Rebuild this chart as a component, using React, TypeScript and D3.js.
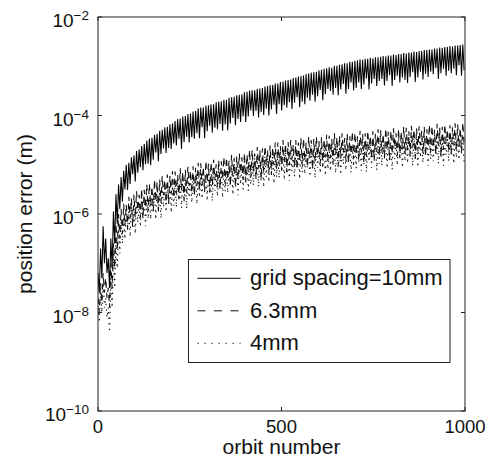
import React from "react";
import * as d3 from "d3";

// ---- data (values stored as log10 of position error in metres) ----
const xTicks = [0, 500, 1000];
const yTickExponents = [-10, -8, -6, -4, -2];
const cycleOrbits = 7; // one oscillation (peak + dip) every 7 orbits
const legendLabels = ["grid spacing=10mm", "6.3mm", "4mm"];

const solidPeaks = [
  -7.2, -6.7, -6.25, -6.5, -6.9, -6.5, -5.95, -5.6, -5.4, -5.25,
  -5.12, -5.0, -4.96, -4.85, -4.81, -4.72, -4.69, -4.62, -4.58, -4.51,
  -4.47, -4.45, -4.39, -4.37, -4.31, -4.29, -4.24, -4.23, -4.18, -4.16,
  -4.11, -4.07, -4.06, -4.02, -4.01, -3.97, -3.96, -3.92, -3.91, -3.86,
  -3.84, -3.84, -3.8, -3.79, -3.77, -3.77, -3.73, -3.72, -3.71, -3.68,
  -3.68, -3.64, -3.63, -3.62, -3.59, -3.58, -3.57, -3.53, -3.52, -3.5,
  -3.49, -3.49, -3.46, -3.45, -3.44, -3.41, -3.4, -3.38, -3.38, -3.35,
  -3.35, -3.32, -3.31, -3.29, -3.28, -3.27, -3.24, -3.23, -3.21, -3.2,
  -3.19, -3.16, -3.15, -3.13, -3.12, -3.11, -3.08, -3.07, -3.05, -3.04,
  -3.02, -3.03, -2.99, -2.99, -2.97, -2.96, -2.94, -2.94, -2.91, -2.91,
  -2.89, -2.88, -2.86, -2.87, -2.85, -2.85, -2.83, -2.84, -2.82, -2.82,
  -2.81, -2.79, -2.8, -2.78, -2.78, -2.76, -2.77, -2.75, -2.75, -2.73,
  -2.74, -2.72, -2.72, -2.7, -2.71, -2.69, -2.69, -2.67, -2.67, -2.66,
  -2.66, -2.64, -2.64, -2.62, -2.63, -2.61, -2.61, -2.59, -2.6, -2.58,
  -2.58, -2.57, -2.56,
];
const solidDips = [
  -7.6, -7.3, -7.0, -7.2, -7.5, -7.1, -6.6, -6.2, -5.9, -5.75,
  -5.5, -5.51, -5.39, -5.19, -5.34, -5.16, -5.05, -5.11, -4.99, -4.98,
  -5.01, -4.9, -4.75, -4.93, -4.78, -4.67, -4.76, -4.66, -4.68, -4.57,
  -4.61, -4.47, -4.68, -4.54, -4.43, -4.55, -4.44, -4.47, -4.36, -4.46,
  -4.24, -4.46, -4.32, -4.21, -4.35, -4.25, -4.28, -4.17, -4.31, -4.18,
  -4.3, -4.16, -4.05, -4.2, -4.07, -4.13, -4.02, -4.13, -4.02, -3.9,
  -4.01, -3.91, -4.04, -3.93, -3.99, -3.86, -4.0, -3.88, -3.78, -3.97,
  -3.77, -3.9, -3.79, -3.84, -3.73, -3.87, -3.74, -3.63, -3.83, -3.72,
  -3.77, -3.64, -3.7, -3.58, -3.72, -3.61, -3.48, -3.69, -3.57, -3.46,
  -3.5, -3.58, -3.44, -3.59, -3.47, -3.36, -3.56, -3.46, -3.33, -3.49,
  -3.44, -3.33, -3.46, -3.37, -3.25, -3.47, -3.35, -3.26, -3.4, -3.3,
  -3.26, -3.39, -3.3, -3.18, -3.4, -3.28, -3.19, -3.33, -3.23, -3.28,
  -3.34, -3.22, -3.12, -3.32, -3.23, -3.11, -3.27, -3.15, -3.22, -3.11,
  -3.16, -3.04, -3.26, -3.14, -3.05, -3.19, -3.09, -3.14, -3.05, -3.18,
  -2.98, -3.19, -3.08,
];

const dashedPeaks = [
  -7.7, -7.4, -7.2, -7.3, -7.5, -7.0, -6.6, -6.2, -6.0, -5.9,
  -5.79, -5.81, -5.65, -5.68, -5.61, -5.54, -5.61, -5.49, -5.51, -5.4,
  -5.39, -5.44, -5.3, -5.35, -5.3, -5.23, -5.31, -5.2, -5.23, -5.13,
  -5.14, -5.2, -5.07, -5.14, -5.1, -5.04, -5.12, -5.03, -5.06, -4.96,
  -4.97, -5.04, -4.92, -4.98, -4.95, -4.9, -4.99, -4.9, -4.93, -4.84,
  -4.85, -4.92, -4.8, -4.86, -4.83, -4.77, -4.85, -4.76, -4.79, -4.7,
  -4.7, -4.77, -4.64, -4.71, -4.67, -4.62, -4.7, -4.61, -4.64, -4.55,
  -4.55, -4.62, -4.5, -4.57, -4.54, -4.5, -4.59, -4.5, -4.55, -4.46,
  -4.47, -4.55, -4.43, -4.5, -4.48, -4.43, -4.52, -4.44, -4.48, -4.39,
  -4.41, -4.48, -4.36, -4.44, -4.41, -4.36, -4.46, -4.37, -4.42, -4.33,
  -4.35, -4.42, -4.31, -4.38, -4.36, -4.31, -4.41, -4.32, -4.37, -4.28,
  -4.3, -4.37, -4.26, -4.33, -4.31, -4.26, -4.36, -4.27, -4.32, -4.23,
  -4.25, -4.32, -4.21, -4.28, -4.26, -4.22, -4.31, -4.23, -4.28, -4.19,
  -4.21, -4.29, -4.17, -4.25, -4.23, -4.18, -4.28, -4.2, -4.24, -4.16,
  -4.18, -4.25, -4.14,
];
const dashedDips = [
  -8.0, -7.8, -7.6, -7.7, -7.9, -7.5, -7.1, -6.7, -6.5, -6.4,
  -6.24, -6.31, -6.09, -6.26, -6.08, -5.93, -6.07, -6.09, -5.88, -5.95,
  -5.84, -5.94, -5.74, -5.93, -5.77, -5.62, -5.77, -5.8, -5.6, -5.68,
  -5.59, -5.7, -5.51, -5.72, -5.57, -5.43, -5.58, -5.63, -5.43, -5.51,
  -5.42, -5.54, -5.36, -5.56, -5.42, -5.29, -5.45, -5.5, -5.3, -5.39,
  -5.3, -5.42, -5.24, -5.44, -5.3, -5.16, -5.31, -5.36, -5.16, -5.25,
  -5.15, -5.27, -5.08, -5.29, -5.14, -5.01, -5.16, -5.21, -5.01, -5.1,
  -5.0, -5.12, -4.94, -5.15, -5.01, -4.89, -5.05, -5.1, -4.92, -5.01,
  -4.92, -5.05, -4.87, -5.08, -4.95, -4.82, -4.98, -5.04, -4.85, -4.94,
  -4.86, -4.98, -4.8, -5.02, -4.88, -4.75, -4.92, -4.97, -4.79, -4.88,
  -4.8, -4.92, -4.75, -4.96, -4.83, -4.7, -4.87, -4.92, -4.74, -4.83,
  -4.75, -4.87, -4.7, -4.91, -4.78, -4.65, -4.82, -4.87, -4.69, -4.78,
  -4.7, -4.82, -4.65, -4.86, -4.73, -4.61, -4.77, -4.83, -4.65, -4.74,
  -4.66, -4.79, -4.61, -4.83, -4.7, -4.57, -4.74, -4.8, -4.61, -4.71,
  -4.63, -4.75, -4.58,
];

const dottedPeaks = [
  -7.9, -7.6, -7.4, -7.7, -7.9, -7.3, -6.9, -6.5, -6.3, -6.15,
  -6.05, -5.9, -5.91, -5.79, -5.85, -5.75, -5.77, -5.66, -5.67, -5.7,
  -5.65, -5.53, -5.56, -5.46, -5.54, -5.44, -5.47, -5.37, -5.39, -5.43,
  -5.4, -5.29, -5.33, -5.25, -5.34, -5.25, -5.28, -5.2, -5.22, -5.26,
  -5.23, -5.13, -5.18, -5.09, -5.19, -5.11, -5.15, -5.07, -5.09, -5.14,
  -5.11, -5.01, -5.06, -4.97, -5.07, -4.98, -5.01, -4.93, -4.95, -5.0,
  -4.96, -4.86, -4.9, -4.82, -4.91, -4.83, -4.86, -4.78, -4.8, -4.85,
  -4.81, -4.71, -4.76, -4.68, -4.78, -4.71, -4.75, -4.67, -4.71, -4.76,
  -4.73, -4.64, -4.69, -4.61, -4.72, -4.64, -4.68, -4.61, -4.64, -4.69,
  -4.67, -4.57, -4.62, -4.55, -4.65, -4.57, -4.62, -4.54, -4.58, -4.63,
  -4.61, -4.51, -4.57, -4.49, -4.6, -4.52, -4.57, -4.49, -4.53, -4.58,
  -4.56, -4.46, -4.52, -4.44, -4.55, -4.47, -4.52, -4.44, -4.48, -4.53,
  -4.51, -4.41, -4.47, -4.39, -4.5, -4.43, -4.47, -4.4, -4.44, -4.49,
  -4.47, -4.38, -4.43, -4.36, -4.47, -4.39, -4.44, -4.37, -4.4, -4.46,
  -4.44, -4.34, -4.4,
];
const dottedDips = [
  -8.2, -8.0, -7.9, -8.1, -8.4, -7.9, -7.5, -7.1, -6.8, -6.6,
  -6.51, -6.33, -6.46, -6.29, -6.4, -6.17, -6.26, -6.06, -6.25, -6.1,
  -6.11, -5.96, -6.11, -5.96, -6.09, -5.86, -5.96, -5.77, -5.97, -5.83,
  -5.86, -5.72, -5.88, -5.75, -5.89, -5.67, -5.77, -5.6, -5.8, -5.66,
  -5.69, -5.56, -5.73, -5.59, -5.74, -5.53, -5.64, -5.47, -5.67, -5.54,
  -5.57, -5.44, -5.61, -5.47, -5.62, -5.4, -5.5, -5.33, -5.53, -5.4,
  -5.42, -5.29, -5.45, -5.32, -5.46, -5.25, -5.35, -5.18, -5.38, -5.25,
  -5.27, -5.14, -5.31, -5.18, -5.33, -5.13, -5.24, -5.07, -5.29, -5.16,
  -5.19, -5.07, -5.24, -5.11, -5.27, -5.06, -5.17, -5.01, -5.22, -5.09,
  -5.13, -5.0, -5.17, -5.05, -5.2, -4.99, -5.11, -4.94, -5.16, -5.03,
  -5.07, -4.94, -5.12, -4.99, -5.15, -4.94, -5.06, -4.89, -5.11, -4.98,
  -5.02, -4.89, -5.07, -4.94, -5.1, -4.89, -5.01, -4.84, -5.06, -4.93,
  -4.97, -4.84, -5.02, -4.89, -5.05, -4.85, -4.96, -4.8, -5.02, -4.89,
  -4.93, -4.81, -4.98, -4.86, -5.02, -4.81, -4.93, -4.77, -4.98, -4.86,
  -4.9, -4.77, -4.95,
];

// ---- layout ----
const W = 486;
const H = 458;
const left = 98;
const right = 465;
const top = 17;
const bottom = 411;
const FONT = "'Liberation Sans', Arial, Helvetica, sans-serif";

type Pt = [number, number];
function toPoints(peaks: number[], dips: number[]): Pt[] {
  const pts: Pt[] = [];
  peaks.forEach((p, k) => {
    pts.push([k * cycleOrbits, Math.pow(10, p)]);
    if (dips[k] !== undefined) pts.push([k * cycleOrbits + cycleOrbits / 2, Math.pow(10, dips[k])]);
  });
  return pts;
}

const series = [
  { name: legendLabels[0], pts: toPoints(solidPeaks, solidDips), dash: "none", legendDash: "none", color: "#000", width: 1.05 },
  { name: legendLabels[1], pts: toPoints(dashedPeaks, dashedDips), dash: "6,5", legendDash: "8,8.5", color: "#111", width: 1.1 },
  { name: legendLabels[2], pts: toPoints(dottedPeaks, dottedDips), dash: "1.4,4.2", legendDash: "1.3,5.7", color: "#111", width: 1.1 },
];

export default function App() {
  const x = d3.scaleLinear().domain([0, 1000]).range([left, right]);
  const y = d3.scaleLog().domain([1e-10, 1e-2]).range([bottom, top]);
  const line = d3
    .line<Pt>()
    .x((d) => x(d[0]))
    .y((d) => y(d[1]));
  const tickLen = 4;
  const legendBox = { x0: 188.5, y0: 259.5, x1: 450, y1: 362.5 };
  const legendRowY = [278.3, 310.8, 343.3];

  return (
    <svg
      width={W}
      height={H}
      style={{ position: "absolute", left: 0, top: 0, background: "#fff" }}
      fontFamily={FONT}
    >
      <defs>
        <clipPath id="plotclip">
          <rect x={left} y={top} width={right - left} height={bottom - top} />
        </clipPath>
      </defs>
      <rect x={0} y={0} width={W} height={H} fill="#fff" />
      <g clipPath="url(#plotclip)">
        {series.map((s, i) => (
          <path
            key={i}
            d={line(s.pts) || ""}
            fill="none"
            stroke={s.color}
            strokeWidth={s.width}
            strokeDasharray={s.dash}
            strokeLinejoin="miter"
          />
        ))}
      </g>
      {/* frame */}
      <rect x={left} y={top} width={right - left} height={bottom - top} fill="none" stroke="#222" strokeWidth={1} />
      {/* x ticks */}
      {xTicks.map((t) => (
        <g key={"xt" + t}>
          <line x1={x(t)} x2={x(t)} y1={bottom} y2={bottom - tickLen} stroke="#222" />
          <line x1={x(t)} x2={x(t)} y1={top} y2={top + tickLen} stroke="#222" />
          <text x={x(t)} y={433} fontSize={18.5} textAnchor="middle" fill="#111">
            {t}
          </text>
        </g>
      ))}
      {/* y ticks */}
      {yTickExponents.map((e) => {
        const yy = y(Math.pow(10, e));
        return (
          <g key={"yt" + e}>
            <line x1={left} x2={left + tickLen} y1={yy} y2={yy} stroke="#222" />
            <line x1={right} x2={right - tickLen} y1={yy} y2={yy} stroke="#222" />
            <text x={89} y={yy + 10} textAnchor="end" fill="#111" fontSize={19}>
              <tspan>10</tspan>
              <tspan fontSize={13.5} dy={-7}>
                {"\u2212" + Math.abs(e)}
              </tspan>
            </text>
          </g>
        );
      })}
      {/* axis labels */}
      <text x={(left + right) / 2} y={454} textAnchor="middle" fontSize={21} fill="#111">
        orbit number
      </text>
      <text
        transform={`translate(32, ${(top + bottom) / 2}) rotate(-90)`}
        textAnchor="middle"
        fontSize={21}
        fill="#111"
      >
        position error (m)
      </text>
      {/* legend */}
      <rect
        x={legendBox.x0}
        y={legendBox.y0}
        width={legendBox.x1 - legendBox.x0}
        height={legendBox.y1 - legendBox.y0}
        fill="#fff"
        stroke="#222"
        strokeWidth={1}
      />
      {series.map((s, i) => (
        <g key={"lg" + i}>
          <line
            x1={197.5}
            x2={240.5}
            y1={legendRowY[i]}
            y2={legendRowY[i]}
            stroke={s.color}
            strokeWidth={1}
            strokeDasharray={s.legendDash}
          />
          <text x={250} y={legendRowY[i] + 7} fontSize={22} fill="#111">
            {s.name}
          </text>
        </g>
      ))}
    </svg>
  );
}
